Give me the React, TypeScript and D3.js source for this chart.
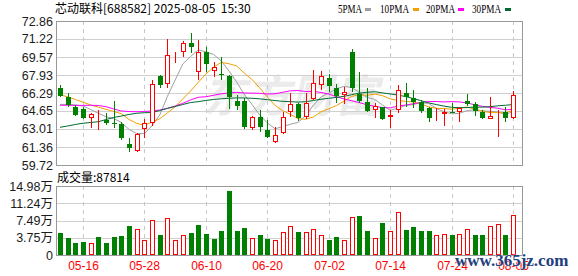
import React from 'react';
import * as d3 from 'd3';

const dates = [
  '05-13','05-14','05-15','05-16','05-19','05-20','05-21','05-22','05-23','05-26',
  '05-27','05-28','05-29','05-30','06-03','06-04','06-05','06-06','06-09','06-10',
  '06-11','06-12','06-13','06-16','06-17','06-18','06-19','06-20','06-23','06-24',
  '06-25','06-26','06-27','06-30','07-01','07-02','07-03','07-04','07-07','07-08',
  '07-09','07-10','07-11','07-14','07-15','07-16','07-17','07-18','07-21','07-22',
  '07-23','07-24','07-25','07-28','07-29','07-30','07-31','08-01','08-04','08-05',
];
const opens = [
  66.78, 65.95, 64.99, 64.83, 63.98, 64.28, 63.83, 63.58, 63.46, 61.61,
  61.03, 62.98, 63.53, 67.84, 67.08, 69.72, 70.00, 70.82, 68.23, 70.06,
  68.33, 68.05, 67.84, 65.56, 65.56, 63.07, 64.13, 62.91, 61.79, 62.62,
  64.58, 65.29, 64.07, 65.77, 67.02, 67.63, 66.72, 66.11, 70.06, 66.20,
  65.50, 64.74, 64.99, 64.07, 64.74, 66.32, 65.80, 65.50, 64.89, 64.12,
  64.35, 64.55, 64.53, 65.56, 65.26, 64.59, 63.92, 64.62, 64.60, 63.98,
];
const highs = [
  66.98, 66.32, 65.20, 65.04, 64.49, 64.75, 64.49, 65.59, 63.60, 62.16,
  62.60, 63.89, 67.48, 67.93, 71.19, 70.06, 71.06, 71.74, 71.12, 70.51,
  69.15, 69.55, 67.93, 66.10, 65.86, 64.19, 64.74, 63.83, 63.16, 64.58,
  66.32, 65.35, 66.26, 68.39, 68.30, 68.02, 67.11, 66.87, 70.28, 68.23,
  66.72, 65.35, 65.04, 64.74, 67.02, 67.17, 66.56, 65.65, 64.99, 64.90,
  64.80, 65.35, 65.04, 66.17, 65.50, 64.74, 65.90, 64.74, 65.04, 66.47,
];
const lows = [
  65.90, 64.99, 64.20, 63.89, 63.13, 62.88, 63.37, 63.07, 62.00, 60.93,
  60.93, 62.16, 63.28, 66.77, 66.72, 69.06, 69.55, 69.91, 67.48, 68.23,
  67.77, 67.48, 64.80, 64.74, 62.98, 62.91, 62.76, 62.16, 61.70, 62.52,
  64.13, 63.76, 63.92, 65.65, 66.56, 66.41, 65.35, 65.29, 66.41, 65.40,
  64.59, 64.04, 63.83, 63.07, 64.44, 65.04, 64.90, 64.50, 63.67, 63.76,
  63.30, 64.44, 63.67, 65.13, 64.22, 63.92, 63.92, 62.30, 63.62, 63.90,
];
const closes = [
  66.05, 65.20, 64.28, 63.98, 64.40, 64.36, 63.58, 63.46, 62.16, 61.25,
  62.52, 63.53, 67.11, 67.05, 69.80, 69.86, 70.88, 70.51, 70.06, 68.94,
  68.65, 67.96, 65.90, 65.10, 63.16, 64.13, 63.16, 62.25, 62.46, 64.07,
  65.26, 63.98, 65.35, 67.23, 67.87, 66.93, 66.02, 66.41, 66.72, 65.60,
  64.68, 65.10, 63.89, 64.28, 66.56, 65.95, 65.50, 64.68, 64.04, 64.22,
  64.52, 64.48, 64.90, 65.26, 64.65, 64.04, 64.22, 64.68, 64.00, 66.11,
];
// volume in 万 (10k shares)
const volumes = [
  4.84, 3.76, 2.68, 2.90, 2.60, 3.90, 2.68, 3.90, 4.12, 6.30,
  5.64, 3.26, 7.60, 4.34, 7.96, 3.26, 4.34, 4.84, 6.58, 4.62,
  3.47, 5.21, 13.96, 5.21, 5.86, 3.69, 4.34, 3.47, 3.26, 4.99,
  6.30, 5.06, 4.99, 5.57, 4.34, 3.33, 3.91, 3.26, 8.25, 8.47,
  5.21, 3.69, 7.02, 5.21, 9.34, 5.43, 6.08, 5.21, 5.21, 4.34,
  4.56, 4.34, 4.56, 5.57, 4.34, 4.34, 6.30, 6.73, 4.34, 8.78,
];
// 1 = up day (red), 0 = down day (green)
const volUp = [
  0,0,0,0,1,0,0,0,0,0,
  1,1,1,0,1,1,1,0,0,0,
  0,0,0,0,0,1,0,0,1,1,
  1,0,1,1,1,0,0,1,1,0,
  0,1,0,1,1,0,0,0,0,1,
  1,0,1,1,0,0,1,1,0,1,
];
// moving-average values before enough visible closes exist
const ma5Head = [65.25, 65.25, 65.2, 65.1];
const ma10Head = [66.11, 65.95, 65.7, 65.45, 65.2, 65.0, 64.8, 64.6, 64.4];
const ma20Head = [65.17, 65.17, 65.16, 65.16, 65.17, 65.15, 65.04, 64.83, 64.65, 64.60,
  64.58, 64.60, 64.65, 64.74, 64.89, 65.10, 65.35, 65.65, 65.90];
const ma30Head = [63.16, 63.28, 63.42, 63.53, 63.60, 63.67, 63.87, 64.06, 64.19, 64.33,
  64.44, 64.49, 64.51, 64.69, 64.89, 65.06, 65.24, 65.42, 65.50, 65.61,
  65.70, 65.76, 65.81, 65.84, 65.84, 65.81, 65.76, 65.68, 65.60];

const priceTicks = [72.86, 71.22, 69.57, 67.93, 66.29, 64.65, 63.01, 61.36, 59.72];
const volTicks = [14.98, 11.24, 7.49, 3.75, 0];
const volTickLabels = ['14.98万', '11.24万', '7.49万', '3.75万', '0'];
const xTickLabels = ['05-16', '05-28', '06-10', '06-20', '07-02', '07-14', '07-24', '08-05'];
const maNames = ['5PMA', '10PMA', '20PMA', '30PMA'];
const maPeriods = [5, 10, 20, 30];

const RED = '#ff0000';
const GREEN = '#008000';
const MA_COLORS = ['#a0a0a0', '#f0a000', '#ff00ff', '#006a30'];

export default function App() {
  const W = 578, H = 276;
  const L = 56, R = 522, pTop = 21, pBot = 165, vTop = 186, vBot = 255;

  const x = d3.scalePoint<string>().domain(dates).range([60, 513]);
  const yP = d3.scaleLinear().domain([59.72, 72.86]).range([pBot, pTop]);
  const yV = d3.scaleLinear().domain([0, 14.98]).range([vBot, vTop]);

  const heads = [ma5Head, ma10Head, ma20Head, ma30Head];
  const maSeries = maPeriods.map((n, k) =>
    closes.map((c, i) => (i >= n - 1 ? (d3.mean(closes.slice(i - n + 1, i + 1)) as number) : heads[k][i]))
  );
  const line = d3
    .line<number>()
    .x((_, i) => x(dates[i]) as number)
    .y((d) => yP(d));

  const cxOf = (d: string) => Math.round(x(d) as number);

  const labelFont = '"Liberation Sans", Arial, sans-serif';
  const cjk = '"Noto Sans CJK SC", "Noto Sans", sans-serif';

  const legendX = [338, 380, 426, 472];
  const legendW = [24, 29, 29, 29];
  const swatchX = [365, 413, 458, 505];

  return (
    <svg
      width={W}
      height={H}
      viewBox={`0 0 ${W} ${H}`}
      style={{ position: 'fixed', left: 0, top: 0, background: '#fff' }}
    >
      <rect x={0} y={0} width={W} height={H} fill="#fff" />

      {/* header */}
      <text x={55} y={13} fontFamily={cjk} fontSize={12} fill="#000" style={{ whiteSpace: 'pre' }}>
        {'芯动联科[688582] 2025-08-05  15:30'}
      </text>

      {/* legend */}
      {maNames.map((n, k) => (
        <g key={n}>
          <text
            x={legendX[k]}
            y={12.5}
            fontFamily='"Liberation Serif", serif'
            fontSize={12}
            fill="#000"
            textLength={legendW[k]}
            lengthAdjust="spacingAndGlyphs"
          >
            {n}
          </text>
          <rect x={swatchX[k]} y={8} width={6} height={3} fill={MA_COLORS[k]} />
        </g>
      ))}

      {/* watermark */}
      <text
        x={205}
        y={112}
        fontFamily={cjk}
        fontSize={44}
        fontWeight={700}
        fill="#ebebeb"
        transform="skewX(-12) translate(22,0)"
      >
        东方财富
      </text>

      {/* price grid */}
      {priceTicks.slice(1, -1).map((t) => (
        <line key={t} x1={L} x2={R} y1={Math.round(yP(t)) + 0.5} y2={Math.round(yP(t)) + 0.5} stroke="#d0d0d0" />
      ))}
      {volTicks.slice(1, -1).map((t) => (
        <line key={t} x1={L} x2={R} y1={Math.round(yV(t)) + 0.5} y2={Math.round(yV(t)) + 0.5} stroke="#d0d0d0" />
      ))}
      {xTickLabels.map((lab) => {
        const cx = cxOf(lab) + 0.5;
        return (
          <g key={lab}>
            <line x1={cx} x2={cx} y1={pTop} y2={pBot} stroke="#c8c8c8" strokeDasharray="4,4" />
            <line x1={cx} x2={cx} y1={vTop} y2={vBot} stroke="#c8c8c8" strokeDasharray="4,4" />
          </g>
        );
      })}

      {/* moving averages */}
      <g>
        {maSeries.map((s, k) => (
          <path key={k} d={line(s) || ''} fill="none" stroke={MA_COLORS[k]} strokeWidth={1} />
        ))}
      </g>

      {/* candles */}
      {dates.map((d, i) => {
        const cx = cxOf(d);
        const o = opens[i], h = highs[i], l = lows[i], c = closes[i];
        const up = c >= o;
        const col = up ? RED : GREEN;
        const yHi = Math.round(yP(h));
        const yLo = Math.round(yP(l));
        const yTop = Math.round(yP(Math.max(o, c)));
        const yBot = Math.round(yP(Math.min(o, c)));
        const bh = Math.max(1, yBot - yTop);
        return (
          <g key={d}>
            <line x1={cx + 0.5} x2={cx + 0.5} y1={yHi} y2={yLo} stroke={col} />
            {up ? (
              <rect x={cx - 1.5} y={yTop + 0.5} width={4} height={Math.max(0, bh - 1)} fill="#fff" stroke={col} />
            ) : (
              <rect x={cx - 2} y={yTop} width={5} height={bh} fill={col} />
            )}
          </g>
        );
      })}

      {/* volume bars */}
      {dates.map((d, i) => {
        const cx = cxOf(d);
        const top = Math.round(yV(volumes[i]));
        const h = vBot - top;
        return volUp[i] ? (
          <rect key={d} x={cx - 1.5} y={top + 0.5} width={4} height={h - 1} fill="#fff" stroke={RED} />
        ) : (
          <rect key={d} x={cx - 2} y={top} width={5} height={h} fill={GREEN} />
        );
      })}

      {/* borders */}
      <rect x={L + 0.5} y={pTop + 0.5} width={R - L} height={pBot - pTop} fill="none" stroke="#999" />
      <rect x={L + 0.5} y={vTop + 0.5} width={R - L} height={vBot - vTop} fill="none" stroke="#999" />

      {/* price axis labels */}
      {priceTicks.map((t) => (
        <text
          key={t}
          x={53}
          y={yP(t) + 4.5}
          textAnchor="end"
          fontFamily={labelFont}
          fontSize={12.5}
          fill="#1b1b1b"
        >
          {t.toFixed(2)}
        </text>
      ))}

      {/* volume axis labels */}
      {volTicks.map((t, k) => (
        <text
          key={t}
          x={53}
          y={yV(t) + 4.5}
          textAnchor="end"
          fontFamily={`"Liberation Sans", ${cjk}`}
          fontSize={12.5}
          fill="#1b1b1b"
        >
          {volTickLabels[k]}
        </text>
      ))}

      <text x={57} y={182} fontFamily={cjk} fontSize={12} fill="#000">
        成交量:87814
      </text>

      {/* date labels */}
      {xTickLabels.map((lab) => (
        <text
          key={lab}
          x={cxOf(lab) + 0.5}
          y={270}
          textAnchor="middle"
          fontFamily={labelFont}
          fontSize={12}
          fill={RED}
        >
          {lab}
        </text>
      ))}

      {/* site watermark */}
      <text
        x={455}
        y={266}
        fontFamily='"Liberation Serif", serif'
        fontWeight={700}
        fontSize={17}
        fill="#22407e"
        stroke="#ffffff"
        strokeWidth={0.6}
        paintOrder="stroke"
      >
        www.365jz.com
      </text>
    </svg>
  );
}
